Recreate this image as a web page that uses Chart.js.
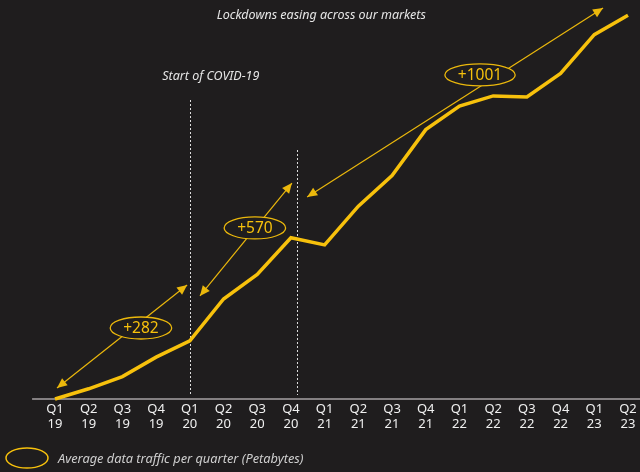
<!DOCTYPE html>
<html>
<head>
<meta charset="utf-8">
<script src="https://cdn.jsdelivr.net/npm/chart.js@4"></script>
<style>
  html, body { margin:0; padding:0; background:#1f1d1e; }
  #wrap { width:640px; height:472px; position:relative; }
</style>
</head>
<body>
<div id="wrap"><canvas id="trafficChart"></canvas></div>
<script>
const quarters = ["Q1","Q2","Q3","Q4","Q1","Q2","Q3","Q4","Q1","Q2","Q3","Q4","Q1","Q2","Q3","Q4","Q1","Q2"];
const years    = ["19","19","19","19","20","20","20","20","21","21","21","21","22","22","22","22","23","23"];
const traffic  = [0, 50, 110, 205, 285, 490, 610, 790, 755, 945, 1095, 1320, 1435, 1485, 1480, 1595, 1785, 1880];

// growth spans: label, start/end of arrow (category index, value), badge centre
const spanLabels = ["+282", "+570", "+1001"];
const spanFrom   = [[0.06, 54], [4.30, 505], [7.48, 990]];
const spanTo     = [[3.92, 559], [7.03, 1058], [16.26, 1916]];
const spanBadge  = [[2.55, 348], [5.93, 838], [12.61, 1588]];

// vertical event markers: category index, top value
const markerIdx  = [4, 7.18];
const markerTop  = [1465, 1220];

const labels = quarters.map((q, i) => [q, years[i]]);

const YELLOW = "#f7c10c";
const ARROW = "#ebb80c";
const FONT = "'Noto Sans'";

function arrowHead(c, x1, y1, x2, y2){
    const a = Math.atan2(y2 - y1, x2 - x1);
    const len = 10, w = 4.5;
    c.beginPath();
    c.moveTo(x2, y2);
    c.lineTo(x2 - len*Math.cos(a) + w*Math.sin(a), y2 - len*Math.sin(a) - w*Math.cos(a));
    c.lineTo(x2 - len*Math.cos(a) - w*Math.sin(a), y2 - len*Math.sin(a) + w*Math.cos(a));
    c.closePath();
    c.fill();
}

const decor = {
    id:"decor",
    beforeDatasetsDraw(chart){
        const c = chart.ctx, x = chart.scales.x, y = chart.scales.y;
        const base = y.getPixelForValue(0);
        c.save();
        // axis line
        c.strokeStyle = "#848082";
        c.lineWidth = 2;
        c.beginPath();
        c.moveTo(x.getPixelForValue(-0.68), base);
        c.lineTo(chart.width, base);
        c.stroke();
        // dashed markers
        c.strokeStyle = "#dcdcdc";
        c.lineWidth = 1;
        c.setLineDash([2, 2]);
        markerIdx.forEach((m, i) => {
            const px = Math.round(x.getPixelForValue(m)) + 0.5;
            c.beginPath();
            c.moveTo(px, y.getPixelForValue(markerTop[i]));
            c.lineTo(px, base - 4);
            c.stroke();
        });
        c.setLineDash([]);
        c.restore();
    },
    afterDatasetsDraw(chart){
        const c = chart.ctx, x = chart.scales.x, y = chart.scales.y;
        c.save();
        // arrows
        c.strokeStyle = ARROW;
        c.fillStyle = ARROW;
        c.lineWidth = 1.2;
        spanLabels.forEach((t, i) => {
            const x1 = x.getPixelForValue(spanFrom[i][0]), y1 = y.getPixelForValue(spanFrom[i][1]);
            const x2 = x.getPixelForValue(spanTo[i][0]),   y2 = y.getPixelForValue(spanTo[i][1]);
            c.beginPath();
            c.moveTo(x1, y1);
            c.lineTo(x2, y2);
            c.stroke();
            arrowHead(c, x1, y1, x2, y2);
            arrowHead(c, x2, y2, x1, y1);
        });
        // badges
        c.font = "15.5px " + FONT;
        c.textAlign = "center";
        c.textBaseline = "middle";
        spanLabels.forEach((t, i) => {
            const bx = x.getPixelForValue(spanBadge[i][0]), by = y.getPixelForValue(spanBadge[i][1]);
            const rx = c.measureText(t).width/2 + 13;
            c.fillStyle = "#1f1d1e";
            c.strokeStyle = ARROW;
            c.lineWidth = 1.3;
            c.beginPath();
            c.ellipse(bx, by, rx, 11, 0, 0, Math.PI*2);
            c.fill();
            c.stroke();
            c.fillStyle = YELLOW;
            c.fillText(t, bx, by + 1);
        });
        // captions
        c.fillStyle = "#e6e6e6";
        c.font = "italic 12.5px " + FONT;
        c.fillText("Lockdowns easing across our markets", x.getPixelForValue(7.9), 15);
        c.fillText("Start of COVID-19", x.getPixelForValue(4) + 21, 76);
        // legend
        c.strokeStyle = YELLOW;
        c.lineWidth = 1.5;
        c.beginPath();
        c.ellipse(27, 458, 21, 10, 0, 0, Math.PI*2);
        c.stroke();
        c.fillStyle = "#cfcfcf";
        c.font = "italic 12.8px " + FONT;
        c.textAlign = "left";
        c.fillText("Average data traffic per quarter (Petabytes)", 58, 459);
        c.restore();
    }
};

const chart = new Chart(document.getElementById("trafficChart"), {
    type:"line",
    data:{
        labels:labels,
        datasets:[{
            data:traffic,
            borderColor:YELLOW,
            borderWidth:3.5,
            pointRadius:0,
            tension:0,
            clip:false
        }]
    },
    options:{
        responsive:true,
        maintainAspectRatio:false,
        animation:false,
        layout:{ padding:{ left:55, right:12, top:0, bottom:0 } },
        plugins:{ legend:{ display:false }, tooltip:{ enabled:false } },
        scales:{
            x:{
                grid:{ display:false, drawTicks:false },
                border:{ display:false },
                ticks:{ color:"#f0f0f0", font:{ family:"Noto Sans", size:13 }, padding:2, maxRotation:0, autoSkip:false },
                afterFit(s){ s.height = 73; }
            },
            y:{
                display:false,
                min:0,
                max:1955
            }
        }
    },
    plugins:[decor]
});
</script>
</body>
</html>
